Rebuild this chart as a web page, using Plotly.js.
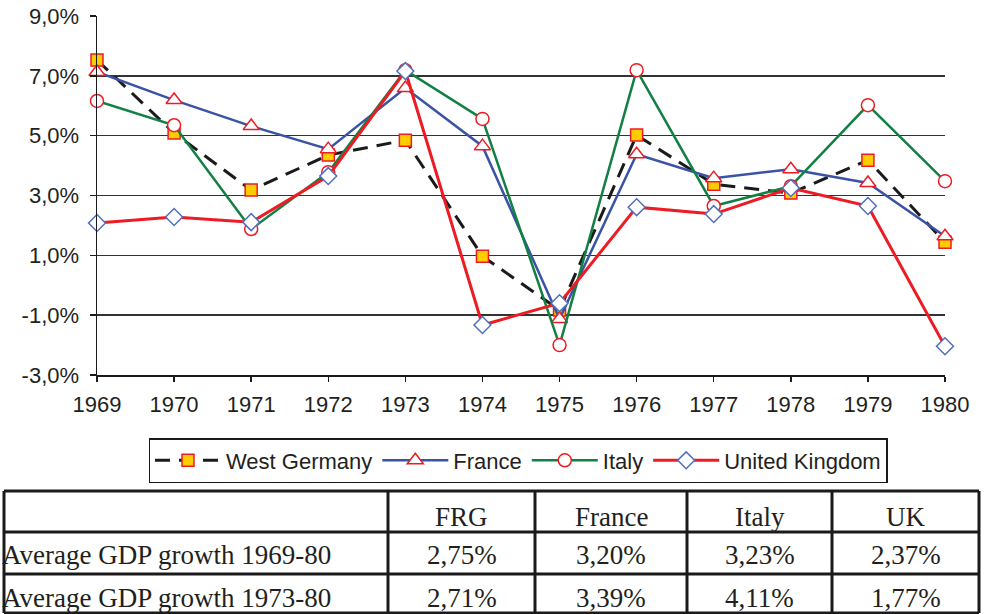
<!DOCTYPE html>
<html>
<head>
<meta charset="utf-8">
<script src="https://cdn.plot.ly/plotly-3.0.1.min.js"></script>
<style>html,body{margin:0;padding:0;background:#fff;}#chart{width:987px;height:614px;}</style>
</head>
<body>
<div id="chart"></div>
<script>
// ---- data ----
const years = [1969, 1970, 1971, 1972, 1973, 1974, 1975, 1976, 1977, 1978, 1979, 1980];
const westGermany = [7.53, 5.09, 3.18, 4.35, 4.85, 0.97, -0.83, 5.02, 3.38, 3.08, 4.18, 1.44];
const france      = [7.13, 6.19, 5.32, 4.55, 6.59, 4.65, -1.13, 4.38, 3.58, 3.88, 3.42, 1.64];
const italy       = [6.16, 5.35, 1.88, 3.78, 7.19, 5.56, -2.00, 7.19, 2.65, 3.31, 6.02, 3.48];
const uk          = [2.08, 2.28, 2.11, 3.65, 7.16, -1.33, -0.60, 2.61, 2.38, 3.25, 2.65, -2.04];
const yTicks = [-3, -1, 1, 3, 5, 7, 9];
const yTickText = ['-3,0%', '-1,0%', '1,0%', '3,0%', '5,0%', '7,0%', '9,0%'];

const tableHeader = ['', 'FRG', 'France', 'Italy', 'UK'];
const rowLabels = ['Average GDP growth 1969-80', 'Average GDP growth 1973-80'];
const avg1969_80 = ['2,75%', '3,20%', '3,23%', '2,37%'];
const avg1973_80 = ['2,71%', '3,39%', '4,11%', '1,77%'];

// ---- layout helpers (pixel -> paper) ----
const W = 987, H = 614;
const px = v => v / W;
const py = v => 1 - v / H;

const red = '#ED1C24';
const traces = [
  {x: years, y: westGermany, name: 'West Germany', mode: 'lines+markers',
   line: {color: '#1a1a1a', width: 3, dash: '15px,9px'},
   marker: {symbol: 'square', size: 12, color: '#FFCC00', line: {color: red, width: 1.5}}},
  {x: years, y: france, name: 'France', mode: 'lines+markers',
   line: {color: '#3A53A4', width: 2.5},
   marker: {symbol: 'triangle-up', size: 14, color: '#ffffff', line: {color: red, width: 1.5}}},
  {x: years, y: italy, name: 'Italy', mode: 'lines+markers',
   line: {color: '#138043', width: 2.5},
   marker: {symbol: 'circle', size: 13, color: '#ffffff', line: {color: red, width: 1.5}}},
  {x: years, y: uk, name: 'United Kingdom', mode: 'lines+markers',
   line: {color: red, width: 3},
   marker: {symbol: 'diamond', size: 13, color: '#ffffff', line: {color: '#4F6FBF', width: 1.5}}}
].map(t => Object.assign(t, {cliponaxis: false}));

// table
const colEdges = [4, 388, 535, 687, 832, 979];
const rowEdges = [491, 532, 574, 613];
const shapes = [];
colEdges.forEach(x => shapes.push({type: 'line', xref: 'paper', yref: 'paper',
  x0: px(x), x1: px(x), y0: py(rowEdges[0]), y1: py(rowEdges[3]), line: {color: '#1a1a1a', width: 3}}));
rowEdges.forEach(y => shapes.push({type: 'line', xref: 'paper', yref: 'paper',
  x0: px(colEdges[0]), x1: px(colEdges[5]), y0: py(y), y1: py(y), line: {color: '#1a1a1a', width: 3}}));

const tableFont = {family: '"Liberation Serif", "Times New Roman", serif', size: 27, color: '#231f20'};
const annotations = [];
const rowCenters = [517, 555, 598];
const rows = [tableHeader.slice(1), avg1969_80, avg1973_80];
rows.forEach((vals, r) => {
  vals.forEach((v, c) => {
    annotations.push({xref: 'paper', yref: 'paper', x: px((colEdges[c + 1] + colEdges[c + 2]) / 2),
      y: py(rowCenters[r]), text: v, showarrow: false, xanchor: 'center', yanchor: 'middle', font: tableFont});
  });
});
rowLabels.forEach((lab, r) => {
  annotations.push({xref: 'paper', yref: 'paper', x: px(0), y: py(rowCenters[r + 1]), text: lab,
    showarrow: false, xanchor: 'left', yanchor: 'middle', font: tableFont});
});

const axFont = {family: '"Liberation Sans", Arial, sans-serif', size: 22, color: '#231f20'};
const layout = {
  width: W, height: H,
  margin: {l: 0, r: 0, t: 0, b: 0},
  paper_bgcolor: '#ffffff', plot_bgcolor: '#ffffff',
  showlegend: true,
  xaxis: {domain: [px(97), px(945)], range: [1969, 1980], tickvals: years, ticks: 'outside',
    ticklen: 5, tickwidth: 1.5, tickcolor: '#1a1a1a', showline: true, linecolor: '#1a1a1a', linewidth: 1.5,
    showgrid: false, zeroline: false, tickfont: axFont, ticklabelstandoff: 4, fixedrange: true},
  yaxis: {domain: [py(375), py(16)], range: [-3, 9], tickmode: 'array', tickvals: yTicks, ticktext: yTickText,
    ticks: 'outside', ticklen: 6, tickwidth: 1.5, tickcolor: '#1a1a1a', showline: true, linecolor: '#1a1a1a',
    linewidth: 1.5, showgrid: true, gridcolor: '#333333', gridwidth: 1.5, zeroline: false,
    tickfont: axFont, ticklabelstandoff: 6, fixedrange: true},
  legend: {orientation: 'h', x: px(518), xanchor: 'center', y: py(438), yanchor: 'top',
    bordercolor: '#1a1a1a', borderwidth: 1.5, bgcolor: '#ffffff', font: axFont, itemwidth: 66},
  shapes: shapes,
  annotations: annotations
};

Plotly.newPlot('chart', traces, layout, {displayModeBar: false, staticPlot: true});
</script>
</body>
</html>
